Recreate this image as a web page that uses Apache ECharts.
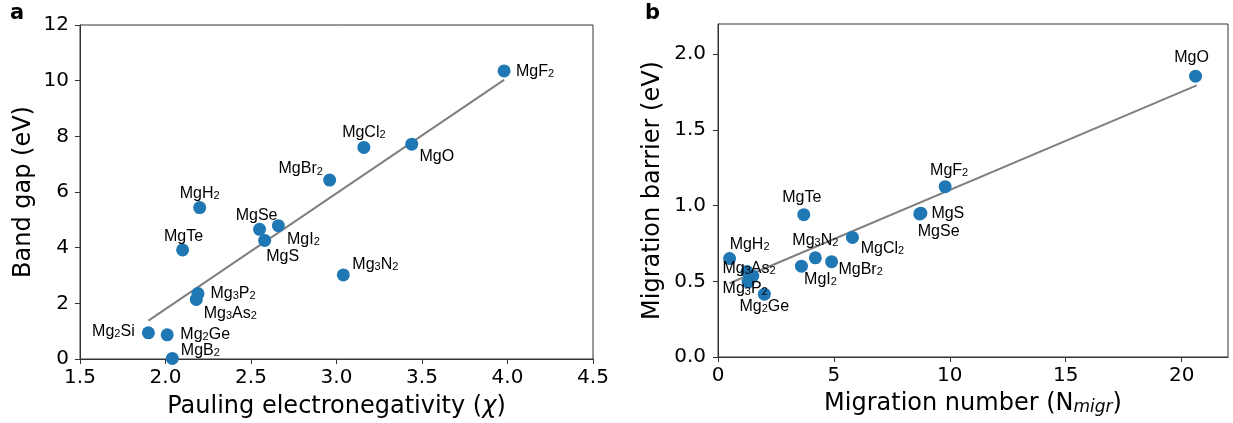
<!DOCTYPE html>
<html>
<head>
<meta charset="utf-8">
<script src="https://cdn.jsdelivr.net/npm/echarts@6/dist/echarts.min.js"></script>
<style>
  html, body { margin: 0; padding: 0; background: #fff; }
  #chart { width: 1233px; height: 423px; }
</style>
</head>
<body>
<div id="chart"></div>
<script>
// panel a: band gap vs Pauling electronegativity
const gapNames = ['MgF2', 'MgO', 'MgCl2', 'MgBr2', 'MgH2', 'MgSe', 'MgI2', 'MgS', 'MgTe', 'Mg3N2', 'Mg3P2', 'Mg3As2', 'Mg2Si', 'Mg2Ge', 'MgB2']
const electroneg = [3.98, 3.44, 3.16, 2.96, 2.20, 2.55, 2.66, 2.58, 2.10, 3.04, 2.19, 2.18, 1.90, 2.01, 2.04]
const bandGap = [10.35, 7.72, 7.6, 6.43, 5.44, 4.66, 4.79, 4.26, 3.92, 3.02, 2.35, 2.14, 0.94, 0.87, 0.02]
const gapFitX = [1.90, 3.98]
const gapFitY = [1.38, 10.03]

// panel b: migration barrier vs migration number
const migrNames = ['MgO', 'MgF2', 'MgS', 'MgSe', 'MgTe', 'MgCl2', 'Mg3N2', 'MgBr2', 'MgI2', 'MgH2', 'Mg3As2', '', 'Mg3P2', 'Mg2Ge']
const migrNumber = [20.6, 9.8, 8.75, 8.7, 3.7, 5.8, 4.2, 4.9, 3.6, 0.5, 1.25, 1.5, 1.3, 2.0]
const migrBarrier = [1.855, 1.125, 0.95, 0.945, 0.94, 0.79, 0.655, 0.63, 0.60, 0.65, 0.565, 0.535, 0.495, 0.415]
const migrFitX = [0.5, 20.65]
const migrFitY = [0.487, 1.795]

const ticksA_x = [1.5, 2.0, 2.5, 3.0, 3.5, 4.0, 4.5]
const ticksA_y = [0, 2, 4, 6, 8, 10, 12]
const ticksB_x = [0, 5, 10, 15, 20]
const ticksB_y = [0, 0.5, 1.0, 1.5, 2.0]

// label offsets (px, label centre relative to marker centre)
const offsetsA = {
  MgF2: [31, 1], MgO: [25, 12], MgCl2: [0, -15], MgBr2: [-29, -11], MgH2: [0, -14],
  MgSe: [-3, -14], MgI2: [25, 14], MgS: [18, 16], MgTe: [1, -13], Mg3N2: [32, -10],
  Mg3P2: [35, 0], Mg3As2: [34, 14], Mg2Si: [-35, -1], Mg2Ge: [38, 0], MgB2: [28, -8]
}
const offsetsB = {
  MgO: [-4, -19], MgF2: [4, -16], MgTe: [-2, -17], MgS: [27, 0], MgSe: [19, 18],
  MgCl2: [30, 11], Mg3N2: [0, -17], MgBr2: [29, 8], MgI2: [19, 13], MgH2: [20, -14],
  Mg3As2: [2, -3], Mg3P2: [-3, 7], Mg2Ge: [0, 12]
}

const BLUE = '#1f77b4'
const AXIS = '#333'
const TICK_FONT = 'DejaVu Sans'
const LABEL_FONT = 'Liberation Sans'

// chemical formula -> rich text with subscript digits
const formula = name =>
  name.split(/(\d+)/).filter(Boolean)
    .map(p => (/^\d+$/.test(p) ? `{s|${p}}` : `{b|${p}}`)).join('')

const labelRich = {
  b: { fontFamily: LABEL_FONT, fontSize: 16, lineHeight: 16, color: '#000', verticalAlign: 'bottom' },
  s: { fontFamily: LABEL_FONT, fontSize: 11, lineHeight: 4, color: '#000', verticalAlign: 'bottom' }
}

const points = (names, xs, ys, offsets) =>
  xs.map((x, i) => ({
    value: [x, ys[i]],
    name: names[i],
    label: {
      show: names[i] !== '',
      position: 'inside',
      offset: offsets[names[i]] || [0, 0],
      formatter: formula(names[i]),
      rich: labelRich,
      color: '#000',
      textBorderWidth: 0
    }
  }))

const axisCommon = {
  axisLine: { show: true, onZero: false, lineStyle: { color: AXIS, width: 1 } },
  axisTick: { show: true, inside: false, length: 5, lineStyle: { color: AXIS, width: 1 } },
  splitLine: { show: false },
  nameLocation: 'middle',
  nameTextStyle: { fontFamily: TICK_FONT, fontSize: 24, color: '#000' }
}

const tickLabel = (vals, digits, margin) => ({
  customValues: vals,
  margin: margin,
  fontFamily: TICK_FONT,
  fontSize: 20,
  color: '#000',
  formatter: v => Number(v).toFixed(digits)
})

const chart = echarts.init(document.getElementById('chart'), null, { renderer: 'canvas' })

const option = {
  animation: false,
  backgroundColor: '#fff',
  graphic: [
    { type: 'text', left: 10, top: 3, style: { text: 'a', fontFamily: TICK_FONT, fontWeight: 'bold', fontSize: 21, fill: '#000' } },
    { type: 'text', left: 645, top: 3, style: { text: 'b', fontFamily: TICK_FONT, fontWeight: 'bold', fontSize: 21, fill: '#000' } }
  ],
  grid: [
    { left: 80, top: 25, width: 513, height: 334, show: true, borderColor: AXIS, borderWidth: 1, outerBoundsMode: 'none' },
    { left: 718, top: 24, width: 510, height: 333, show: true, borderColor: AXIS, borderWidth: 1, outerBoundsMode: 'none' }
  ],
  xAxis: [
    {
      ...axisCommon, gridIndex: 0, type: 'value', min: 1.5, max: 4.5,
      name: 'Pauling electronegativity ({i|χ})', nameGap: 36,
      nameTextStyle: { ...axisCommon.nameTextStyle, rich: { i: { fontFamily: TICK_FONT, fontSize: 24, fontStyle: 'italic', color: '#000' } } },
      axisTick: { ...axisCommon.axisTick, customValues: ticksA_x },
      axisLabel: tickLabel(ticksA_x, 1, 9)
    },
    {
      ...axisCommon, gridIndex: 1, type: 'value', min: 0, max: 22,
      name: 'Migration number (N{i|migr})', nameGap: 35,
      nameTextStyle: { ...axisCommon.nameTextStyle, rich: { i: { fontFamily: TICK_FONT, fontSize: 17, fontStyle: 'italic', color: '#000', lineHeight: 6, verticalAlign: 'bottom' } } },
      axisTick: { ...axisCommon.axisTick, customValues: ticksB_x },
      axisLabel: tickLabel(ticksB_x, 0, 9)
    }
  ],
  yAxis: [
    {
      ...axisCommon, gridIndex: 0, type: 'value', min: 0, max: 12,
      name: 'Band gap (eV)', nameGap: 44, nameRotate: 90,
      axisTick: { ...axisCommon.axisTick, customValues: ticksA_y },
      axisLabel: tickLabel(ticksA_y, 0, 11)
    },
    {
      ...axisCommon, gridIndex: 1, type: 'value', min: 0, max: 2.2,
      name: 'Migration barrier (eV)', nameGap: 53, nameRotate: 90,
      axisTick: { ...axisCommon.axisTick, customValues: ticksB_y },
      axisLabel: tickLabel(ticksB_y, 1, 12)
    }
  ],
  series: [
    {
      type: 'line', xAxisIndex: 0, yAxisIndex: 0, z: 2,
      data: gapFitX.map((x, i) => [x, gapFitY[i]]),
      symbol: 'none', lineStyle: { color: '#808080', width: 2 }, silent: true
    },
    {
      type: 'scatter', xAxisIndex: 0, yAxisIndex: 0, z: 3,
      symbolSize: 13, itemStyle: { color: BLUE, opacity: 1 },
      data: points(gapNames, electroneg, bandGap, offsetsA)
    },
    {
      type: 'line', xAxisIndex: 1, yAxisIndex: 1, z: 2,
      data: migrFitX.map((x, i) => [x, migrFitY[i]]),
      symbol: 'none', lineStyle: { color: '#808080', width: 2 }, silent: true
    },
    {
      type: 'scatter', xAxisIndex: 1, yAxisIndex: 1, z: 3,
      symbolSize: 13, itemStyle: { color: BLUE, opacity: 1 },
      data: points(migrNames, migrNumber, migrBarrier, offsetsB)
    }
  ]
}

chart.setOption(option)
window.addEventListener('resize', () => chart.resize())
</script>
</body>
</html>
